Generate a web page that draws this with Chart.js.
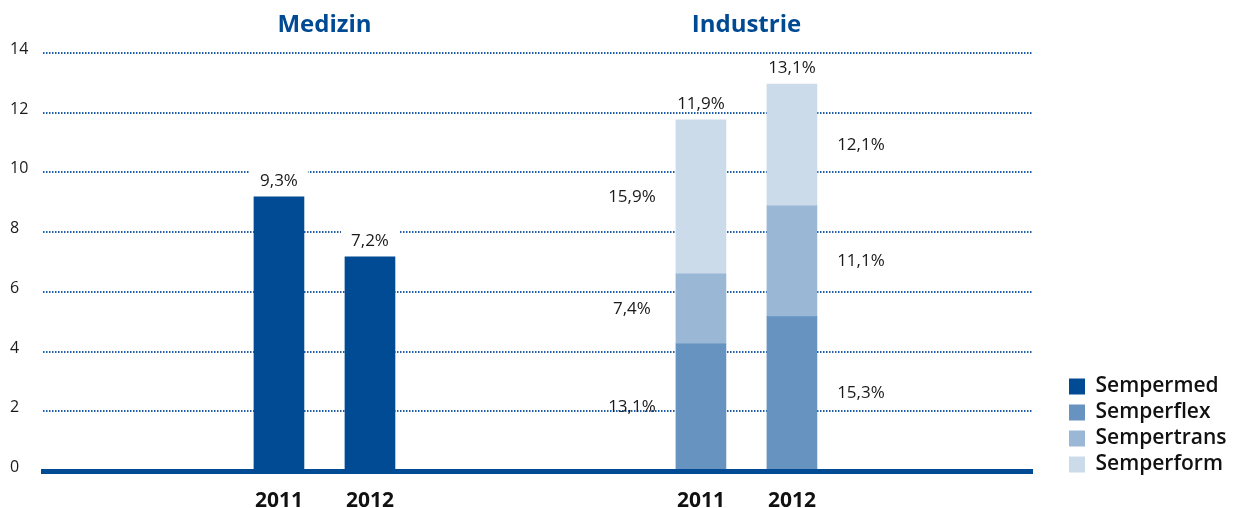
<!DOCTYPE html>
<html><head><meta charset="utf-8">
<script src="https://cdn.jsdelivr.net/npm/chart.js@4"></script>
<style>html,body{margin:0;padding:0;background:#fff;} #wrap{position:relative;width:1234px;height:508px;}</style>
</head><body><div id="wrap"><canvas id="c"></canvas></div>
<script>
// ---- data ----
const groups = ['Medizin', 'Industrie'];
const years = ['2011', '2012'];
const seriesNames = ['Sempermed', 'Semperflex', 'Sempertrans', 'Semperform'];
const sempermed = [9.18, 7.17];
const semperflex = [4.26, 5.17];
const sempertrans = [2.34, 3.71];
const semperform = [5.16, 4.08];
const yTicks = [0, 2, 4, 6, 8, 10, 12, 14];
const sempermedLabels = ['9,3%', '7,2%'];
const semperflexLabels = ['13,1%', '15,3%'];
const sempertransLabels = ['7,4%', '11,1%'];
const semperformLabels = ['15,9%', '12,1%'];
const industrieTotalLabels = ['11,9%', '13,1%'];

// ---- layout constants ----
const FONT = "'Open Sans', sans-serif";
const GROUP_SPACING = 4.637;
const X_MIN = -2.593, X_MAX = 8.275;
const barX = (g, j) => g * GROUP_SPACING + j;
const pts = (g, vals) => vals.map((v, j) => ({x: barX(g, j), y: v}));
const xTickValues = [];
const xTickLabels = [];
groups.forEach((g, gi) => years.forEach((y, yi) => { xTickValues.push(barX(gi, yi)); xTickLabels.push(y); }));

const colors = ['#004b93', '#6793c0', '#9bb7d6', '#cbdbea'];
const TEXT = '#1a1a1a';

const datasets = [
  {label: seriesNames[0], data: pts(0, sempermed), backgroundColor: colors[0], segLabels: sempermedLabels, mode: 'top'},
  {label: seriesNames[1], data: pts(1, semperflex), backgroundColor: colors[1], segLabels: semperflexLabels, mode: 'side'},
  {label: seriesNames[2], data: pts(1, sempertrans), backgroundColor: colors[2], segLabels: sempertransLabels, mode: 'side'},
  {label: seriesNames[3], data: pts(1, semperform), backgroundColor: colors[3], segLabels: semperformLabels, mode: 'side', totalLabels: industrieTotalLabels}
];

const legendPlace = {
  id: 'legendPlace',
  afterInit(chart) {
    const lg = chart.legend;
    const fit = lg.fit.bind(lg);
    lg.fit = function () { fit(); this.width = 202; };
  },
  afterLayout(chart) {
    const lg = chart.legend;
    lg.left = 1064; lg.right = 1234; lg.top = 0; lg.bottom = 480;
  }
};

const labelsPlugin = {
  id: 'labelsPlugin',
  afterDraw(chart) {
    const ctx = chart.ctx;
    ctx.save();
    // group titles
    const xs = chart.scales.x;
    ctx.font = "bold 24px " + FONT;
    ctx.fillStyle = '#004a93';
    ctx.textAlign = 'center';
    ctx.textBaseline = 'alphabetic';
    groups.forEach((g, gi) => {
      const cx = (xs.getPixelForValue(barX(gi, 0)) + xs.getPixelForValue(barX(gi, 1))) / 2;
      ctx.fillText(g, cx, 32);
    });
    // value labels
    ctx.font = "17px " + FONT;
    ctx.textBaseline = 'middle';
    const drawTop = (txt, x, y) => {
      const w = ctx.measureText(txt).width;
      ctx.fillStyle = '#fff';
      ctx.fillRect(x - w / 2 - 10, y - 10, w + 20, 16);
      ctx.fillStyle = TEXT;
      ctx.fillText(txt, x, y);
    };
    chart.data.datasets.forEach((ds, di) => {
      const meta = chart.getDatasetMeta(di);
      meta.data.forEach((bar, i) => {
        const txt = ds.segLabels[i];
        if (ds.mode === 'top') {
          drawTop(txt, bar.x, bar.y - 16);
        } else {
          const side = i === 0 ? -69 : 69;
          ctx.fillStyle = TEXT;
          ctx.fillText(txt, bar.x + side, (bar.y + bar.base) / 2);
        }
        if (ds.totalLabels) drawTop(ds.totalLabels[i], bar.x, bar.y - 16);
      });
    });
    ctx.restore();
  }
};

Chart.defaults.font.family = FONT;
new Chart(document.getElementById('c'), {
  type: 'bar',
  data: {datasets},
  options: {
    responsive: true,
    maintainAspectRatio: false,
    animation: false,
    barThickness: 50,
    borderWidth: 0,
    layout: {padding: {left: 10, top: 53, right: 0, bottom: 0}},
    plugins: {
      tooltip: {enabled: false},
      legend: {
        position: 'right', align: 'end',
        labels: {boxWidth: 16, boxHeight: 16, padding: 5, color: '#111', font: {family: FONT, size: 21, weight: '600'}}
      }
    },
    scales: {
      x: {
        type: 'linear', min: X_MIN, max: X_MAX, stacked: true, offset: false,
        grid: {display: false, drawTicks: false, offset: false},
        border: {display: true, color: '#004b93', width: 5, z: 1},
        afterBuildTicks: (s) => { s.ticks = xTickValues.map(v => ({value: v})); },
        afterFit: (s) => { s.height = 37; },
        ticks: {
          autoSkip: false, maxRotation: 0, padding: 17, color: '#111',
          font: {family: FONT, size: 21, weight: 'bold'},
          callback: (v, i) => xTickLabels[i]
        }
      },
      y: {
        min: 0, max: 14, stacked: true,
        afterBuildTicks: (s) => { s.ticks = yTicks.map(v => ({value: v})); },
        afterFit: (s) => { s.width = 33; },
        grid: {color: '#1f5fa8', lineWidth: 2, drawTicks: false},
        border: {display: false, dash: [1.5, 1.5]},
        ticks: {crossAlign: 'far', padding: 0, labelOffset: -3.5, color: TEXT, font: {family: FONT, size: 16}}
      }
    }
  },
  plugins: [legendPlace, labelsPlugin]
});
</script>
</body></html>
